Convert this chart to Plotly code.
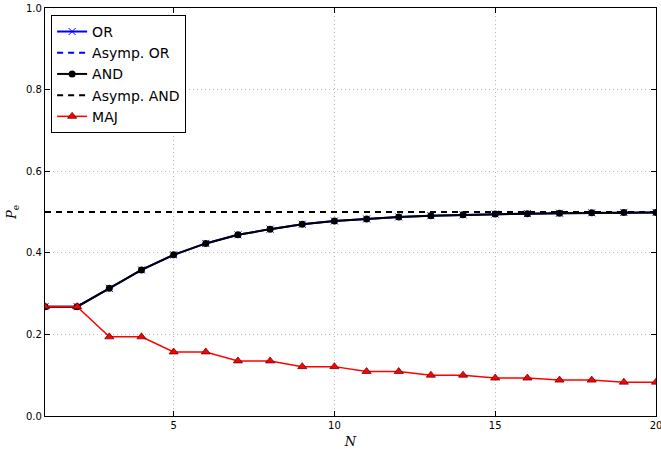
import plotly.graph_objects as go

N = list(range(1, 21))
or_pe = [0.268, 0.268, 0.313, 0.358, 0.395, 0.423, 0.444, 0.458, 0.470, 0.478,
         0.483, 0.488, 0.491, 0.493, 0.495, 0.496, 0.497, 0.498, 0.499, 0.499]
and_pe = [0.268, 0.268, 0.313, 0.358, 0.395, 0.423, 0.444, 0.458, 0.470, 0.478,
          0.483, 0.488, 0.491, 0.493, 0.495, 0.496, 0.497, 0.498, 0.499, 0.499]
asym_or = [0.5] * 20
asym_and = [0.5] * 20
maj_pe = [0.268, 0.268, 0.194, 0.194, 0.157, 0.157, 0.135, 0.135, 0.121, 0.121,
          0.109, 0.109, 0.100, 0.100, 0.093, 0.093, 0.088, 0.088, 0.083, 0.083]

fig = go.Figure()
fig.add_trace(go.Scatter(x=N, y=or_pe, name="OR", mode="lines+markers",
                         line=dict(color="blue", width=2),
                         marker=dict(symbol="x-thin", size=7, line=dict(color="blue", width=1))))
fig.add_trace(go.Scatter(x=N, y=asym_or, name="Asymp. OR", mode="lines",
                         line=dict(color="blue", width=2, dash="6px,5px")))
fig.add_trace(go.Scatter(x=N, y=and_pe, name="AND", mode="lines+markers",
                         line=dict(color="black", width=2),
                         marker=dict(symbol="circle", size=7, color="black")))
fig.add_trace(go.Scatter(x=N, y=asym_and, name="Asymp. AND", mode="lines",
                         line=dict(color="black", width=2, dash="6px,5px")))
fig.add_trace(go.Scatter(x=N, y=maj_pe, name="MAJ", mode="lines+markers",
                         line=dict(color="red", width=1.5),
                         marker=dict(symbol="triangle-up", size=8, color="red",
                                     line=dict(color="#550000", width=0.7))))

axis_common = dict(showline=True, linecolor="black", linewidth=1.2, mirror="ticks",
                   ticks="inside", ticklen=5, tickcolor="black",
                   showgrid=True, gridcolor="#b8b8b8", griddash="1px,3px", gridwidth=1,
                   zeroline=False, ticklabeloverflow="allow", automargin=False,
                   tickfont=dict(family="DejaVu Sans", size=10, color="black"))

fig.update_xaxes(range=[1, 20], tickvals=[5, 10, 15, 20],
                 title=dict(text="<i>N</i>", font=dict(family="DejaVu Serif", size=13, color="black"), standoff=6),
                 **axis_common)
fig.update_yaxes(range=[0, 1], tickvals=[0, 0.2, 0.4, 0.6, 0.8, 1.0], tickformat=".1f",
                 title=dict(text="<i>P</i><sub>e</sub>", font=dict(family="DejaVu Serif", size=13, color="black"), standoff=6),
                 **axis_common)

fig.update_layout(width=661, height=449,
                  margin=dict(l=45, r=5, t=8, b=33),
                  plot_bgcolor="white", paper_bgcolor="white",
                  showlegend=True,
                  legend=dict(x=0.01, y=0.983, xanchor="left", yanchor="top",
                              bgcolor="white", bordercolor="black", borderwidth=1,
                              font=dict(family="DejaVu Sans", size=14, color="black"),
                              itemwidth=30, tracegroupgap=0))

fig.write_html("out.html")
